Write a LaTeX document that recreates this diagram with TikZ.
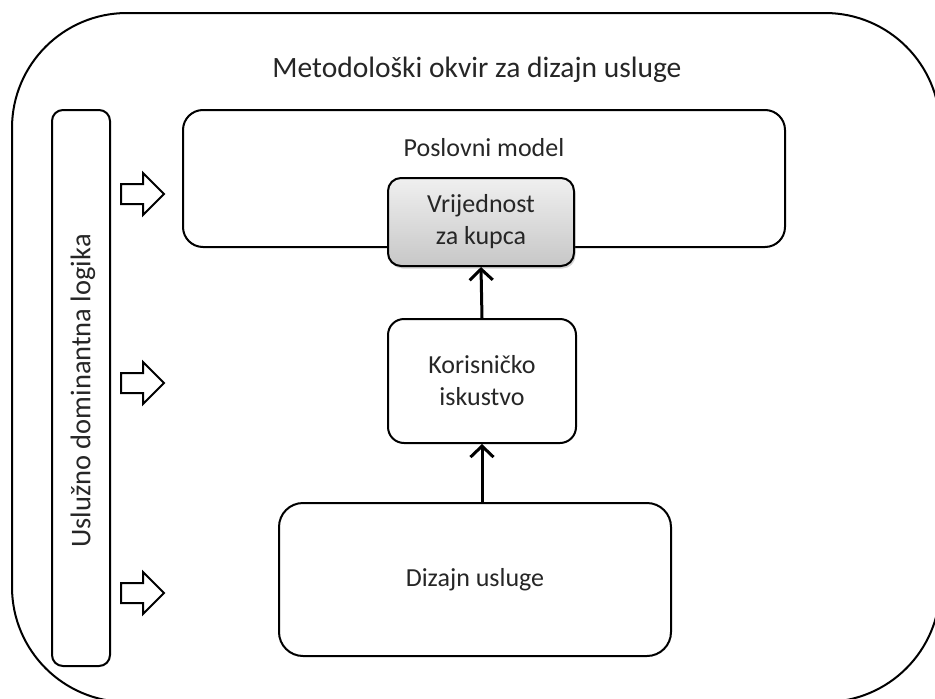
\documentclass[tikz,border=0pt]{standalone}
\usepackage{fontspec}
\setmainfont{Carlito}
\usetikzlibrary{shadows,arrows.meta}
\begin{document}
\begin{tikzpicture}[x=1pt,y=-1pt,
  box/.style={draw=black, line width=2pt, rounded corners=#1},
  lbl/.style={font=\fontsize{26}{32}\selectfont, text=black!85, align=center},
  blk/.style={draw=black, line width=2pt, fill=white, line join=miter},
  conn/.style={draw=black, line width=3pt, -{Straight Barb[length=11pt,width=23pt,line width=3pt]}}
]
\useasboundingbox (0,0) rectangle (935,699);
\begin{scope}
\clip (0,0) rectangle (935,699);
\draw[box=115] (12,13) rectangle (940,702);
\end{scope}
\node[lbl, font=\fontsize{29.5}{34}\selectfont] (title) at (477,70) {Metodološki okvir za dizajn usluge};
% vertical bar
\draw[box=11] (52,110) rectangle (110,666);
\node[lbl, font=\fontsize{28.5}{34}\selectfont, rotate=90] (sdl) at (83,391) {Uslužno dominantna logika};
% top box
\draw[box=20] (183,110) rectangle (785,247);
\node[lbl] (pm) at (484,148) {Poslovni model};
% value box
\node[box=13, top color=black!6, bottom color=black!22, drop shadow={opacity=0.35, shadow xshift=1.5pt, shadow yshift=-2.5pt},
  minimum width=186pt, minimum height=88pt, inner sep=0pt, lbl, anchor=north west] (vk) at (387,177) {Vrijednost\\za kupca};
% middle box
\node[box=16, minimum width=188pt, minimum height=124pt, inner sep=0pt, lbl, anchor=north west] (ki) at (387,318) {Korisničko\\iskustvo};
% bottom box
\node[box=24, minimum width=392pt, minimum height=153pt, inner sep=0pt, lbl, anchor=north west] (du) at (278,502) {Dizajn usluge};
% connectors
\draw[conn] (ki.north) -- (vk.south);
\draw[conn] (du.north -| ki.south) -- (ki.south);
% block arrows
\foreach \y/\n in {194/a1,383/a2,593/a3}{
  \coordinate (\n) at (121,\y);
  \draw[blk] (\n) ++(0,-10) -- ++(22,0) -- ++(0,-11) -- ++(21,21) -- ++(-21,21) -- ++(0,-11) -- ++(-22,0) -- cycle;
}
\end{tikzpicture}
\end{document}
